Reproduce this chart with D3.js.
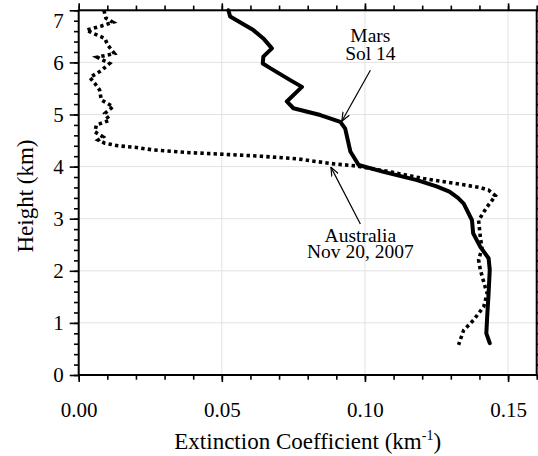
<!DOCTYPE html>
<html>
<head>
<meta charset="utf-8">
<script src="https://cdn.jsdelivr.net/npm/d3@7"></script>
<style>
  body { margin: 0; background: #fff; }
  svg text { font-family: "Liberation Serif", "Times New Roman", Times, "DejaVu Serif", "Noto Serif", serif; fill: #000; }
</style>
</head>
<body>
<svg id="chart" width="538" height="456"></svg>
<script>
// Mars Sol 14 profile (solid)
var marsHeight = [7.00, 6.88, 6.62, 6.46, 6.27, 6.11, 5.98, 5.89, 5.66, 5.53, 5.25, 5.12, 4.99, 4.86, 4.73, 4.51, 4.29, 4.03, 3.90, 3.74, 3.62, 3.52, 3.40, 3.29, 2.97, 2.72, 2.46, 2.24, 2.02, 1.57, 1.12, 0.80, 0.61];
var marsExt    = [0.0523, 0.0529, 0.0610, 0.0645, 0.0675, 0.0645, 0.0643, 0.0669, 0.0739, 0.0780, 0.0727, 0.0750, 0.0844, 0.0914, 0.0931, 0.0940, 0.0949, 0.0978, 0.1065, 0.1182, 0.1250, 0.1295, 0.1325, 0.1345, 0.1374, 0.1378, 0.1403, 0.1432, 0.1436, 0.1432, 0.1427, 0.1424, 0.1436];

// Australia Nov 20, 2007 profile (dotted)
var ausHeight = [7.00, 6.85, 6.77, 6.70, 6.62, 6.56, 6.46, 6.33, 6.17, 6.10, 5.98, 5.84, 5.71, 5.60, 5.47, 5.28, 5.15, 5.02, 4.89, 4.80, 4.67, 4.57, 4.51, 4.45, 4.40, 4.37, 4.32, 4.27, 4.24, 4.20, 4.15, 4.06, 4.01, 3.90, 3.77, 3.65, 3.60, 3.55, 3.44, 3.23, 2.97, 2.65, 2.43, 2.21, 2.02, 1.69, 1.57, 1.31, 1.06, 0.86, 0.58];
var ausExt    = [0.0088, 0.0095, 0.0120, 0.0080, 0.0027, 0.0050, 0.0091, 0.0102, 0.0125, 0.0065, 0.0108, 0.0078, 0.0039, 0.0056, 0.0073, 0.0079, 0.0120, 0.0091, 0.0108, 0.0062, 0.0056, 0.0085, 0.0068, 0.0091, 0.0137, 0.0196, 0.0261, 0.0378, 0.0494, 0.0634, 0.0762, 0.0879, 0.0972, 0.1088, 0.1205, 0.1345, 0.1400, 0.1432, 0.1456, 0.1427, 0.1397, 0.1403, 0.1409, 0.1397, 0.1403, 0.1420, 0.1427, 0.1415, 0.1380, 0.1345, 0.1327];

var xTicks = [0, 0.05, 0.10, 0.15];
var yTicks = [0, 1, 2, 3, 4, 5, 6, 7];

var margin = {top: 10.3, right: 1.3, bottom: 81, left: 78.7},
    width = 538 - margin.left - margin.right,
    height = 456 - margin.top - margin.bottom;

var svg = d3.select("#chart");
var g = svg.append("g").attr("transform", "translate(" + margin.left + "," + margin.top + ")");

var x = d3.scaleLinear().domain([0, 0.16]).range([0, width]);
var y = d3.scaleLinear().domain([0, 7]).range([height, 0]);

// grid
g.append("g").selectAll("line").data(xTicks.slice(1))
  .enter().append("line")
  .attr("x1", d => x(d)).attr("x2", d => x(d))
  .attr("y1", 0).attr("y2", height)
  .attr("stroke", "#e2e2e2").attr("stroke-width", 1);
g.append("g").selectAll("line").data(yTicks.slice(1))
  .enter().append("line")
  .attr("y1", d => y(d)).attr("y2", d => y(d))
  .attr("x1", 0).attr("x2", width)
  .attr("stroke", "#e2e2e2").attr("stroke-width", 1);

var xMinor = d3.range(0, 0.1601, 0.01);
var yMinor = d3.range(0, 7.01, 0.2);

function styleAxis(sel) {
  sel.attr("font-family", null);
  sel.select(".domain").remove();
  sel.selectAll(".tick line").attr("stroke", "#000").attr("stroke-width", 1.6);
}

// minor ticks on all four sides
g.append("g").attr("transform", "translate(0," + height + ")")
  .call(d3.axisBottom(x).tickValues(xMinor).tickSize(4.7).tickFormat(""))
  .call(styleAxis);
g.append("g")
  .call(d3.axisTop(x).tickValues(xMinor).tickSize(4.7).tickFormat(""))
  .call(styleAxis);
g.append("g")
  .call(d3.axisLeft(y).tickValues(yMinor).tickSize(4.7).tickFormat(""))
  .call(styleAxis);
g.append("g").attr("transform", "translate(" + width + ",0)")
  .call(d3.axisRight(y).tickValues(yMinor).tickSize(4.7).tickFormat(""))
  .call(styleAxis);

// major ticks
var xAxis = g.append("g").attr("transform", "translate(0," + height + ")")
  .call(d3.axisBottom(x).tickValues(xTicks).tickSize(7).tickPadding(20.4).tickFormat(d3.format(".2f")))
  .call(styleAxis);
xAxis.selectAll("text").attr("font-size", 21);

g.append("g")
  .call(d3.axisTop(x).tickValues(xTicks).tickSize(7).tickFormat(""))
  .call(styleAxis);

var yAxis = g.append("g")
  .call(d3.axisLeft(y).tickValues(yTicks).tickSize(9).tickPadding(6).tickFormat(d3.format("d")))
  .call(styleAxis);
yAxis.selectAll("text").attr("font-size", 21)
  .attr("dy", d => d === 7 ? "0.82em" : "0.32em");

g.append("g").attr("transform", "translate(" + width + ",0)")
  .call(d3.axisRight(y).tickValues(yTicks).tickSize(7).tickFormat(""))
  .call(styleAxis);

// frame
g.append("rect").attr("x", 0).attr("y", 0).attr("width", width).attr("height", height)
  .attr("fill", "none").attr("stroke", "#000").attr("stroke-width", 2);

// curves
var line = d3.line().x(d => x(d[0])).y(d => y(d[1]));

g.append("path")
  .datum(d3.zip(ausExt, ausHeight))
  .attr("d", line)
  .attr("fill", "none").attr("stroke", "#000")
  .attr("stroke-width", 3.6).attr("stroke-dasharray", "3.4,3.2");

g.append("path")
  .datum(d3.zip(marsExt, marsHeight))
  .attr("d", line)
  .attr("fill", "none").attr("stroke", "#000")
  .attr("stroke-width", 4).attr("stroke-linejoin", "round").attr("stroke-linecap", "round");

// annotations
svg.append("defs").append("marker")
  .attr("id", "arrow").attr("viewBox", "0 0 10 10")
  .attr("refX", 10).attr("refY", 5)
  .attr("markerWidth", 9).attr("markerHeight", 9)
  .attr("markerUnits", "userSpaceOnUse")
  .attr("orient", "auto")
  .append("path").attr("d", "M0,1 L10,5 L0,9")
  .attr("fill", "none").attr("stroke", "#000").attr("stroke-width", 1.3);

var notes = [
  {lines: ["Mars", "Sol 14"], tx: 0.1019, ty: [6.53, 6.18], from: [0.1019, 5.85], to: [0.0919, 4.87]},
  {lines: ["Australia", "Nov 20, 2007"], tx: 0.0984, ty: [2.69, 2.37], from: [0.0984, 2.90], to: [0.0881, 3.99]}
];

notes.forEach(function(n) {
  g.append("line")
    .attr("x1", x(n.from[0])).attr("y1", y(n.from[1]))
    .attr("x2", x(n.to[0])).attr("y2", y(n.to[1]))
    .attr("stroke", "#000").attr("stroke-width", 1.2)
    .attr("marker-end", "url(#arrow)");
  var txt = g.append("text")
    .attr("text-anchor", "middle")
    .attr("font-size", 19.5);
  n.lines.forEach(function(t, i) {
    txt.append("tspan")
      .attr("x", x(n.tx)).attr("y", y(n.ty[i]))
      .attr("dy", "0.35em")
      .text(t);
  });
});

// axis titles
svg.append("text")
  .attr("transform", "translate(33,196) rotate(-90)")
  .attr("text-anchor", "middle")
  .attr("font-size", 23)
  .text("Height (km)");

var xt = svg.append("text")
  .attr("x", margin.left + width / 2).attr("y", 448.5)
  .attr("text-anchor", "middle")
  .attr("font-size", 23);
xt.append("tspan").text("Extinction Coefficient (km");
xt.append("tspan").attr("font-size", 14).attr("dy", -9).text("-1");
xt.append("tspan").attr("dy", 9).text(")");
</script>
</body>
</html>
